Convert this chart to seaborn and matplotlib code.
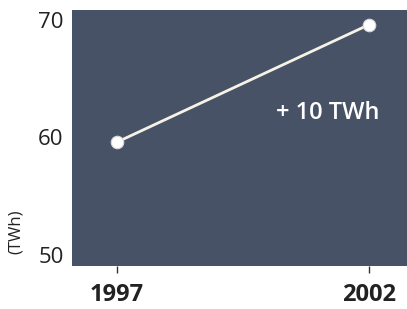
import matplotlib
matplotlib.use('Agg')
import matplotlib.pyplot as plt
import seaborn as sns
import pandas as pd

# Données
years = [1997, 2002]
production = [59.6, 69.6]
x_labels = ['1997', '2002']
y_ticks = [50, 60, 70]

df = pd.DataFrame({'year': years, 'twh': production})

sns.set_style('white')
plt.rcParams['font.family'] = ['Open Sans', 'DejaVu Sans']

fig = plt.figure(figsize=(4.07, 3.09), dpi=100)
ax = fig.add_axes([0.177, 0.139, 0.823, 0.829])
ax.set_facecolor('#485267')

sns.lineplot(data=df, x='year', y='twh', ax=ax, color='#f6f2e6', linewidth=2.0,
             marker='o', markersize=9, markerfacecolor='white',
             markeredgecolor='#d8d8d8', markeredgewidth=0.8)

ax.set_xlim(1996.11, 2002.75)
ax.set_ylim(49.06, 70.85)
ax.set_xticks(years)
ax.set_xticklabels(x_labels, fontsize=17, fontweight='bold', color='#222222')
ax.set_yticks(y_ticks)
ax.set_yticklabels([str(v) for v in y_ticks], fontsize=16, color='#222222')
ax.tick_params(axis='x', length=5, width=1, color='#333333', direction='out', pad=7, bottom=True)
ax.tick_params(axis='y', length=0, pad=6)
ax.set_xlabel('')
ax.set_ylabel('')
for s in ax.spines.values():
    s.set_visible(False)

ax.text(2001.17, 62.1, '+ 10 TWh', color='white', fontsize=17, fontweight='semibold',
        ha='center', va='center')

fig.text(0.04, 0.25, '(TWh)', rotation=90, fontsize=12, color='#222222',
         ha='center', va='center')

fig.savefig('out.png', dpi=100, facecolor='white')
